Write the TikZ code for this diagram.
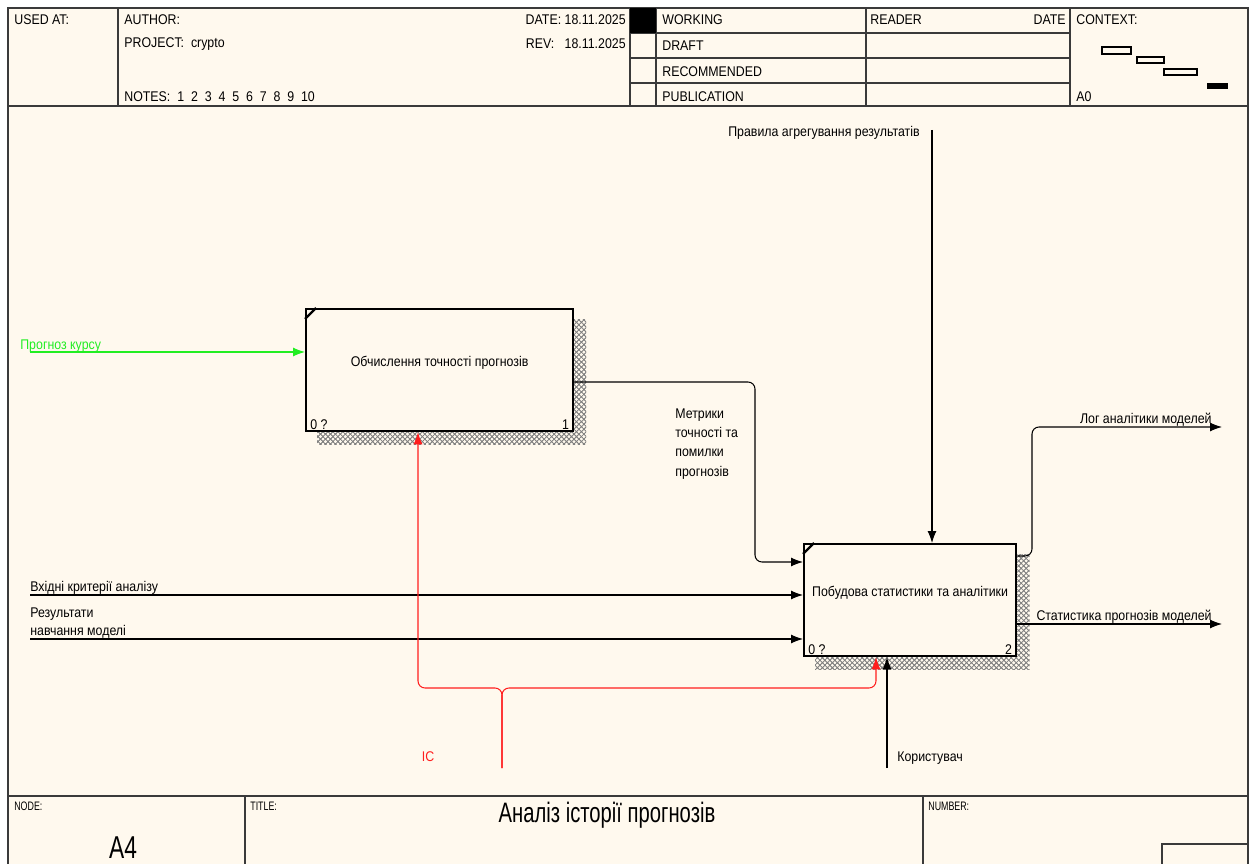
\documentclass[tikz,border=0pt]{standalone}
\usepackage{fontspec}
\setmainfont[FakeStretch=0.88]{Liberation Sans}
\newfontfamily\narrowfont[FakeStretch=0.72]{Liberation Sans}
\usetikzlibrary{arrows.meta,patterns.meta,positioning}
\definecolor{IDPaper}{HTML}{FFF9EE}
\definecolor{IDLine}{HTML}{3A3A3A}
\definecolor{IDShade}{HTML}{808080}
\definecolor{IDGreen}{HTML}{22EE22}
\definecolor{IDRed}{HTML}{FF1E1E}

\begin{document}
\begin{tikzpicture}[x=0.02cm, y=-0.02cm,
  frame/.style={draw=IDLine, line width=0.9pt},
  hdr/.style={anchor=west, inner sep=0pt, font=\fontsize{8}{10}\selectfont},
  foot/.style={anchor=west, inner sep=0pt, font=\narrowfont\fontsize{7}{8}\selectfont},
  func/.style={draw=black, line width=1.3pt, inner sep=0pt, anchor=north west, align=center, font=\fontsize{8}{10}\selectfont},
  corner/.style={font=\fontsize{8}{10}\selectfont, inner sep=0pt},
  shadeA/.style={pattern={Hatch[angle=45,distance=2pt,line width=0.35pt]}, pattern color=IDShade},
  shadeB/.style={pattern={Hatch[angle=-45,distance=2pt,line width=0.35pt]}, pattern color=IDShade},
  arrow/.style={-{Latex[length=2.4mm,width=1.8mm]}, line width=0.6pt, draw=black, rounded corners=4pt},
  lbl/.style={font=\fontsize{8}{10}\selectfont, inner sep=0pt, align=left},
  icline/.style={arrow, draw=IDRed, -{Latex[length=2.4mm,width=1.8mm,color=IDRed]}}
]
\useasboundingbox (0,0) rectangle (1254,864);
% form
\fill[IDPaper] (8,8) rectangle (1248,864);
\draw[frame] (8,864) -- (8,8) -- (1248,8) -- (1248,864);
\draw[frame] (8,106) -- (1248,106);
\draw[frame] (118,8) -- (118,106) (630,8) -- (630,106) (656,8) -- (656,106)
  (866,8) -- (866,106) (1070,8) -- (1070,106);
\draw[frame] (630,33) -- (1070,33) (630,58) -- (1070,58) (630,83) -- (1070,83);
\fill (630,8) rectangle (656,33);
\node[hdr] (usedAt) at (14,20) {USED AT:};
\node[hdr] (author) at (124,20) {AUTHOR:};
\node[hdr] (project) at (124,44) {PROJECT:\ \ crypto};
\node[hdr] (notes) at (124,97) {NOTES:\ \ 1\ \ 2\ \ 3\ \ 4\ \ 5\ \ 6\ \ 7\ \ 8\ \ 9\ \ 10};
\node[hdr, anchor=east] (date) at (626,20) {DATE: 18.11.2025};
\node[hdr, anchor=east] (rev) at (626,44) {REV:\ \ \ 18.11.2025};
\node[hdr] (working) at (662,20) {WORKING};
\node[hdr] (draft) at (662,46) {DRAFT};
\node[hdr] (recommended) at (662,72) {RECOMMENDED};
\node[hdr] (publication) at (662,97) {PUBLICATION};
\node[hdr] (reader) at (870,20) {READER};
\node[hdr, anchor=east] (readerDate) at (1066,20) {DATE};
\node[hdr] (context) at (1076,20) {CONTEXT:};
\node[hdr] (ctxNode) at (1076,97) {A0};
\draw[line width=0.6pt] (1102,47) rectangle (1131,54) (1137,57) rectangle (1164,63)
  (1164,69) rectangle (1197,75);
\fill (1207,83) rectangle (1228,89);
\draw[frame] (8,796) -- (1248,796) (245,796) -- (245,864) (923,796) -- (923,864)
  (1162,864) -- (1162,844) -- (1248,844);
\node[foot] (nodeLbl) at (14,806) {NODE:};
\node[foot] (titleLbl) at (250,806) {TITLE:};
\node[foot] (numberLbl) at (928,806) {NUMBER:};
\node[inner sep=0pt, font=\narrowfont\fontsize{16}{18}\selectfont] (title) at (607,815) {Аналіз історії прогнозів};
\node[inner sep=0pt, font=\narrowfont\fontsize{18}{20}\selectfont] (nodeNum) at (123,848) {A4};

% activities
\node[func, minimum width=5.34cm, minimum height=2.44cm] (calc) at (305,308) {Обчислення точності прогнозів\\\mbox{}};
\node[func, minimum width=4.24cm, minimum height=2.24cm] (stats) at (803,543) {Побудова статистики та аналітики\\\mbox{}};
\foreach \fbx in {calc,stats} {
  \foreach \pat in {shadeA,shadeB} {
    \fill[\pat] ([yshift=-2.4mm]\fbx.north east) rectangle ([xshift=2.4mm,yshift=-2.4mm]\fbx.south east);
    \fill[\pat] ([xshift=2.4mm]\fbx.south west) rectangle ([yshift=-2.4mm]\fbx.south east);
  }
  \draw[line width=1.3pt] ([yshift=-2.2mm]\fbx.north west) -- ([xshift=2.2mm]\fbx.north west);
  \node[corner, anchor=south west] at ([shift={(1mm,0.5mm)}]\fbx.south west) {0 ?};
}
\node[corner, anchor=south east] at ([shift={(-1mm,0.5mm)}]calc.south east) {1};
\node[corner, anchor=south east] at ([shift={(-1mm,0.5mm)}]stats.south east) {2};

% inputs
\coordinate (inKurs) at (30,352);
\coordinate (inCrit) at (30,595);
\coordinate (inRes) at (30,639);
\draw[arrow, draw=IDGreen, -{Latex[length=2.4mm,width=1.8mm,color=IDGreen]}] (inKurs) -- (inKurs -| calc.west);
\node[lbl, anchor=base west, text=IDGreen] at ([shift={(-2mm,0.5mm)}]inKurs) {Прогноз курсу};
\draw[arrow] (inCrit) -- (inCrit -| stats.west);
\node[lbl, anchor=base west] at ([yshift=0.7mm]inCrit) {Вхідні критерії аналізу};
\draw[arrow] (inRes) -- (inRes -| stats.west);
\node[lbl, anchor=base west] at ([yshift=0.7mm]inRes) {навчання моделі};
\node[lbl, anchor=base west] at ([yshift=4.3mm]inRes) {Результати};
\draw[arrow] (calc.east |- 0,382) -| (755,562) -- (stats.west |- 0,562);
\node[lbl, anchor=north west] at (675,408) {Метрики\\[1pt]точності та\\[1pt]помилки\\[1pt]прогнозів};

% control
\coordinate (ctlRules) at (932,130);
\draw[arrow] (ctlRules) -- (ctlRules |- stats.north);
\node[lbl, anchor=east] at (920,133) {Правила агрегування результатів};

% outputs
\coordinate (outLog) at (1222,427);
\coordinate (outStat) at (1222,624);
\draw[arrow] (stats.east |- 0,556) -| (1032,427) -- (outLog);
\node[lbl, anchor=base east] at ([shift={(-2mm,0.7mm)}]outLog) {Лог аналітики моделей};
\draw[arrow] (stats.east |- outStat) -- (outStat);
\node[lbl, anchor=base east] at ([shift={(-2mm,0.7mm)}]outStat) {Статистика прогнозів моделей};

% mechanisms
\coordinate (mechUser) at (887,768);
\draw[arrow] (mechUser) -- (mechUser |- stats.south);
\node[lbl, anchor=west] at (897,758) {Користувач};
\coordinate (icSrc) at (502,768);
\draw[icline] (icSrc) |- (418,688) -- (calc.south -| 418,0);
\draw[icline] (icSrc) |- (876,688) -- (stats.south -| 876,0);
\node[lbl, text=IDRed] at (428,757) {IC};
\end{tikzpicture}
\end{document}
